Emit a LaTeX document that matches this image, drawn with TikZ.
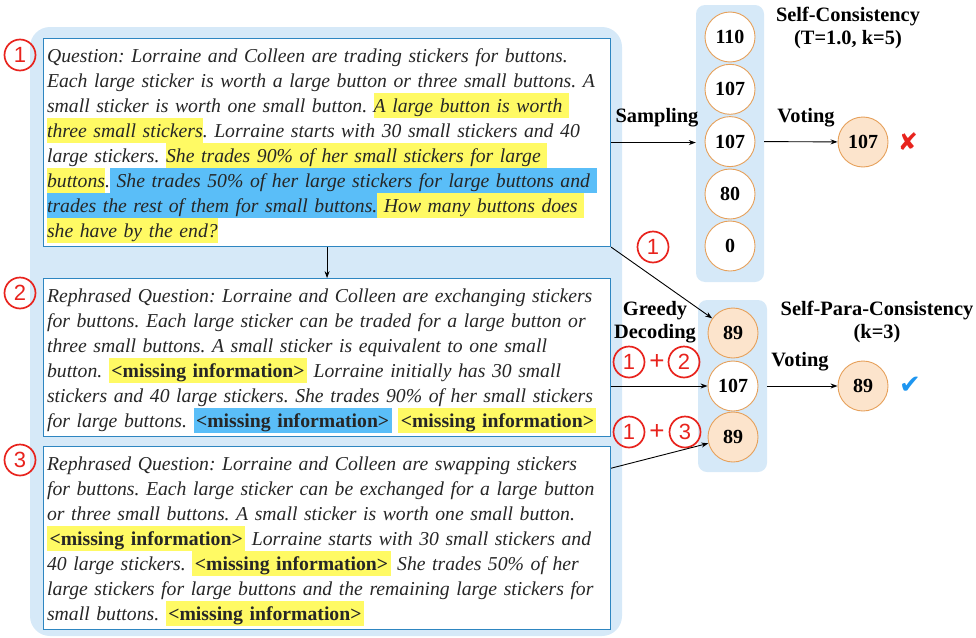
\documentclass[tikz,border=0pt]{standalone}
\usepackage{fontspec}
\setmainfont{Liberation Serif}
\newfontfamily\markfont{Liberation Sans}
\newfontfamily\symfont{DejaVu Sans}
\usetikzlibrary{arrows.meta,positioning}

\definecolor{panelblue}{RGB}{214,233,248}
\definecolor{boxblue}{RGB}{46,134,193}
\definecolor{hlyellow}{RGB}{255,250,100}
\definecolor{hlblue}{RGB}{90,190,248}
\definecolor{ringorange}{RGB}{230,160,90}
\definecolor{fillorange}{RGB}{252,228,204}
\definecolor{markred}{RGB}{232,35,29}
\definecolor{checkblue}{RGB}{30,150,240}

\newcommand\hs{\rule[-5.5pt]{0pt}{25pt}}
\newcommand\hly[1]{{\setlength\fboxsep{0pt}\colorbox{hlyellow}{\hs#1}}}
\newcommand\hlb[1]{{\setlength\fboxsep{0pt}\colorbox{hlblue}{\hs#1}}}
\newcommand\missy{\hly{\hspace{2.5pt}\textbf{\upshape<missing information>}\hspace{2.5pt}}}
\newcommand\missb{\hlb{\hspace{2.5pt}\textbf{\upshape<missing information>}\hspace{2.5pt}}}
\frenchspacing

\begin{document}
\begin{tikzpicture}[x=1pt,y=-1pt,
  qbox/.style={draw=boxblue,line width=1.1pt,fill=white,align=left,text width=560pt,inner xsep=3.5pt,inner ysep=4pt,font=\fontsize{19.7}{25}\selectfont\itshape,text=black!85},
  ans/.style={circle,draw=ringorange,line width=0.9pt,fill=white,minimum size=50pt,inner sep=0pt,font=\fontsize{20}{22}\selectfont\bfseries},
  fin/.style={ans,fill=fillorange},
  mk/.style={circle,draw=markred,line width=1.7pt,minimum size=31pt,inner sep=0pt,text=markred,font=\markfont\fontsize{22}{22}\selectfont},
  lb/.style={align=center,font=\fontsize{20.4}{22.5}\selectfont\bfseries},
  pnl/.style={fill=panelblue,rounded corners=9pt,inner sep=0pt},
  arr/.style={-{Stealth[length=7pt,width=5pt]},line width=0.9pt}]
  \useasboundingbox (0,0) rectangle (976,637);
  \fill[panelblue,rounded corners=20pt] (30,27) rectangle (622,636);
  \node[pnl,minimum width=68pt,minimum height=277pt](pa) at (730,143.5){};
  \node[pnl,minimum width=69pt,minimum height=172pt](pb) at (732.5,386){};
  % question and its two rephrasings
  \node[qbox,anchor=north west](q1) at (43,38){\hs Question: Lorraine and Colleen are trading stickers for buttons.\\
    \hs Each large sticker is worth a large button or three small buttons. A\\
    \hs small sticker is worth one small button. \hly{A large button is worth\ }\\
    \hly{three small stickers}. Lorraine starts with 30 small stickers and 40\\
    \hs large stickers. \hly{She trades 90\% of her small stickers for large\ }\\
    \hly{buttons}.\hlb{\ She trades 50\% of her large stickers for large buttons and\ }\\
    \hlb{trades the rest of them for small buttons.}\hly{\ How many buttons does\ }\\
    \hly{she have by the end?}};
  \node[qbox,below=31pt of q1](q2){\hs Rephrased Question: Lorraine and Colleen are exchanging stickers\\
    \hs for buttons. Each large sticker can be traded for a large button or\\
    \hs three small buttons. A small sticker is equivalent to one small\\
    \hs button. \missy{} Lorraine initially has 30 small\\
    \hs stickers and 40 large stickers. She trades 90\% of her small stickers\\
    \hs for large buttons. \missb{} \missy};
  \node[qbox,below=9pt of q2](q3){\hs Rephrased Question: Lorraine and Colleen are swapping stickers\\
    \hs for buttons. Each large sticker can be exchanged for a large button\\
    \hs or three small buttons. A small sticker is worth one small button.\\
    \missy{} Lorraine starts with 30 small stickers and\\
    \hs 40 large stickers. \missy{} She trades 50\% of her\\
    \hs large stickers for large buttons and the remaining large stickers for\\
    \hs small buttons. \missy};
  \node[mk](m1) at (20,55){1};
  \node[mk](m2) at (20,293){2};
  \node[mk](m3) at (20,460){3};
  % self-consistency
  \foreach \v/\y [count=\i] in {110/37,107/89.3,107/141.6,80/194,0/246}
    \node[ans](s\i) at (730,\y){\v};
  \node[fin](r1) at (863,142){107};
  \node[text=markred,font=\symfont\fontsize{24}{24}\selectfont](x1) at (908,142){✘};
  \node[lb](t1) at (848,28){Self-Consistency\\(T=1.0, k=5)};
  \node[lb](smp) at (657,118){Sampling};
  \node[lb](v1) at (806,118){Voting};
  % self-para-consistency
  \node[fin](p1) at (733,333){89};
  \node[ans](p2) at (733,386){107};
  \node[fin](p3) at (733,437){89};
  \node[fin](r2) at (863,386){89};
  \node[text=checkblue,font=\symfont\fontsize{26}{26}\selectfont](c2) at (910,385){✔};
  \node[lb](t2) at (877,322){Self-Para-Consistency\\(k=3)};
  \node[lb](gd) at (655,322){Greedy\\Decoding};
  \node[lb](v2) at (800,362){Voting};
  \node[mk](m4) at (653,247){1};
  \node[mk](m5) at (629,362){1};
  \node[text=markred,font=\markfont\fontsize{26}{26}\selectfont](pl1) at (657,362){+};
  \node[mk](m6) at (684,362){2};
  \node[mk](m7) at (629,432){1};
  \node[text=markred,font=\markfont\fontsize{26}{26}\selectfont](pl2) at (657,432){+};
  \node[mk](m8) at (685,432){3};
  \coordinate(q3a) at ([yshift=-22pt]q3.north east);
  \draw[arr](q1)--(q2);
  \draw[arr](q1.east)--(q1.east-|pa.west);
  \draw[arr](s3-|pa.east)--(r1);
  \draw[arr](q1.south east)--(p1);
  \draw[arr](p2-|q2.east)--(p2);
  \draw[arr](q3a)--(p3);
  \draw[arr](p2-|pb.east)--(r2);
\end{tikzpicture}
\end{document}
